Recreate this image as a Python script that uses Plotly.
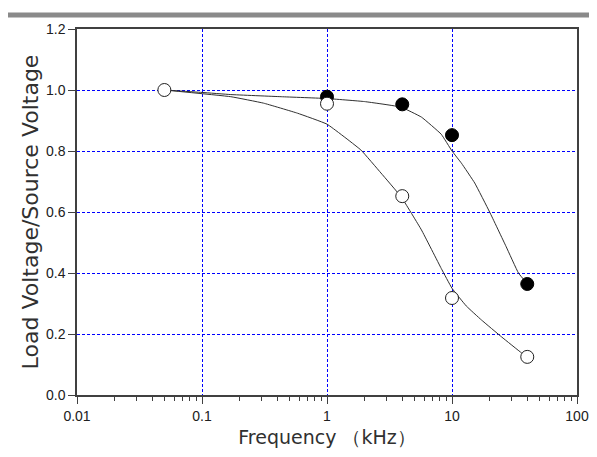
import plotly.graph_objects as go

# measured points
freq_filled = [1, 4, 10, 40]
ratio_filled = [0.978, 0.953, 0.852, 0.364]
freq_open = [0.05, 1, 4, 10, 40]
ratio_open = [1.0, 0.955, 0.652, 0.318, 0.125]

# fitted curves
fit_freq_filled = [0.05, 0.1, 0.17, 0.43, 1, 2, 3.9, 5.7, 8.2, 10, 11.9, 15.2, 20, 27, 34, 40]
fit_ratio_filled = [1.0, 0.992, 0.985, 0.978, 0.972, 0.962, 0.944, 0.911, 0.855, 0.80, 0.76,
                    0.695, 0.60, 0.488, 0.40, 0.365]
fit_freq_open = [0.05, 0.17, 0.31, 0.58, 1, 1.87, 2.7, 3.93, 5.7, 8.2, 10, 13, 17.2, 25, 36, 40]
fit_ratio_open = [1.0, 0.978, 0.957, 0.924, 0.888, 0.803, 0.728, 0.649, 0.541, 0.415,
                  0.35, 0.292, 0.246, 0.19, 0.138, 0.125]

x_major = [0.01, 0.1, 1, 10, 100]
x_major_text = ["0.01", "0.1", "1", "10", "100"]
x_minor = [m * d for d in [0.01, 0.1, 1, 10] for m in range(2, 10)]
y_ticks = [0.0, 0.2, 0.4, 0.6, 0.8, 1.0, 1.2]

font = "Liberation Sans, Arial, sans-serif"
title_font = "DejaVu Sans, sans-serif"
fig = go.Figure()
for fx, fy in [(fit_freq_filled, fit_ratio_filled), (fit_freq_open, fit_ratio_open)]:
    fig.add_trace(go.Scatter(x=fx, y=fy, mode="lines",
                             line=dict(color="#303030", width=1, shape="spline", smoothing=0.3),
                             showlegend=False))
fig.add_trace(go.Scatter(x=freq_filled, y=ratio_filled, mode="markers",
                         marker=dict(size=13, color="black", line=dict(color="black", width=1)),
                         showlegend=False))
fig.add_trace(go.Scatter(x=freq_open, y=ratio_open, mode="markers",
                         marker=dict(size=13, color="white", line=dict(color="#202020", width=1)),
                         showlegend=False))

grid = dict(showgrid=True, gridcolor="#0000ff", gridwidth=1, griddash="3px,2px")
fig.update_xaxes(type="log", range=[-2, 2], tickmode="array", tickvals=x_major,
                 ticktext=x_major_text, ticks="outside", ticklen=7, tickcolor="#404040",
                 showline=True, linecolor="#404040", linewidth=1.5, mirror=True,
                 minor=dict(tickmode="array", tickvals=x_minor, ticks="outside", ticklen=4,
                            tickcolor="#404040", showgrid=False),
                 zeroline=False, tickfont=dict(size=14, color="#202020", family=font),
                 title=dict(text="Frequency （kHz）",
                            font=dict(size=19, color="#303030", family=title_font), standoff=8),
                 **grid)
fig.update_yaxes(range=[0, 1.2], tickmode="array", tickvals=y_ticks, tickformat=".1f",
                 ticks="outside", ticklen=7, tickcolor="#404040",
                 showline=True, linecolor="#404040", linewidth=1.5, mirror=True,
                 zeroline=False, tickfont=dict(size=14, color="#202020", family=font),
                 title=dict(text="Load Voltage/Source Voltage",
                            font=dict(size=22, color="#303030", family=title_font), standoff=1),
                 **grid)
fig.add_shape(type="line", xref="paper", yref="paper", x0=-0.16, x1=1.05, y0=1.038, y1=1.038,
              line=dict(color="#8a8a8a", width=5))
fig.update_layout(width=589, height=449, margin=dict(l=69, r=20, t=21, b=62, autoexpand=False),
                  plot_bgcolor="white", paper_bgcolor="white")
fig.write_html("out.html")
